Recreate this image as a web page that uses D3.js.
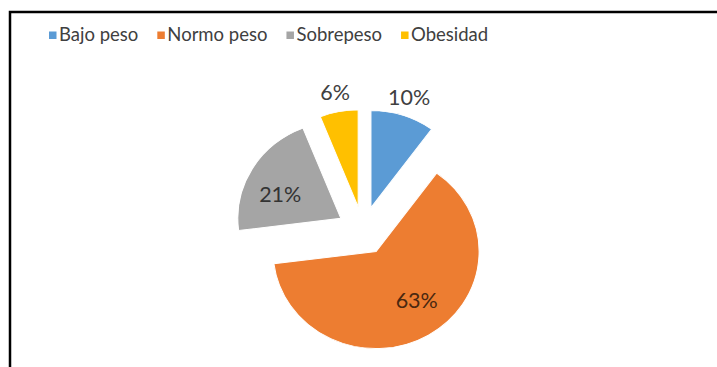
<!DOCTYPE html>
<html>
<head>
<meta charset="utf-8">
<script src="https://cdn.jsdelivr.net/npm/d3@7"></script>
<style>
  html, body { margin: 0; padding: 0; background: #fff; }
  svg { display: block; }
</style>
</head>
<body>
<svg id="chart" width="717" height="367"></svg>
<script>
// Distribución por estado nutricional
const categories = ["Bajo peso", "Normo peso", "Sobrepeso", "Obesidad"];
const values = [10, 63, 21, 6];
const colors = ["#5B9BD5", "#ED7D31", "#A5A5A5", "#FFC000"];
const labelColors = ["#404040", "#4a2810", "#333333", "#404040"];

const W = 717, H = 367;
const svg = d3.select("#chart");

// Frame around the chart area
svg.append("path")
  .attr("d", `M10,${H + 2} L10,12 L${W + 2},12`)
  .attr("fill", "none")
  .attr("stroke", "#000")
  .attr("stroke-width", 2.5);

// Pie geometry (plot area is slightly wider than tall)
const cx = 363, cy = 230.7, R = 100, explode = 25;
const sx = 1.03, sy = 0.97;
const total = d3.sum(values);
const pie = d3.pie().sort(null).value(d => d.v).startAngle(0).endAngle(2 * Math.PI);
const arcs = pie(categories.map((c, i) => ({ c, v: values[i], i })));
const arc = d3.arc().innerRadius(0).outerRadius(R);
const mid = d => (d.startAngle + d.endAngle) / 2;

const g = svg.append("g").attr("transform", `translate(${cx},${cy})`);

const slice = g.selectAll("g.slice").data(arcs).join("g")
  .attr("class", "slice")
  .attr("transform", d => {
    const a = mid(d);
    return `translate(${sx * explode * Math.sin(a)},${-sy * explode * Math.cos(a)})`;
  });

slice.append("path")
  .attr("d", arc)
  .attr("transform", `scale(${sx},${sy})`)
  .attr("fill", d => colors[d.data.i])
  .attr("stroke", "#fff")
  .attr("stroke-width", 1);

// Percentage labels: small slices get the label outside, the rest inside
const labelPos = d => {
  const outside = d.data.v / total < 0.15;
  const a = mid(d) - (outside ? 0 : 0.13);
  const rr = outside ? R * 1.2 : R * 0.64;
  return [sx * rr * Math.sin(a), -sy * rr * Math.cos(a)];
};

slice.append("text")
  .attr("x", d => labelPos(d)[0])
  .attr("y", d => labelPos(d)[1])
  .attr("dy", "0.36em")
  .attr("text-anchor", "middle")
  .attr("font-family", "Lato, 'Open Sans', sans-serif")
  .attr("font-size", 21.5)
  .attr("fill", d => labelColors[d.data.i])
  .text(d => Math.round(d.data.v / total * 100) + "%");

// Legend
const legend = svg.append("g").attr("transform", "translate(49,0)");
let lx = 0;
categories.forEach((c, i) => {
  const item = legend.append("g").attr("transform", `translate(${lx},0)`);
  item.append("rect")
    .attr("x", 0).attr("y", 31.5)
    .attr("width", 7.5).attr("height", 7.5)
    .attr("fill", colors[i]);
  const t = item.append("text")
    .attr("x", 10).attr("y", 41)
    .attr("font-family", "Lato, 'Open Sans', sans-serif")
    .attr("font-size", 18.5)
    .attr("fill", "#404040")
    .text(c);
  lx += 10 + t.node().getComputedTextLength() + 19;
});
</script>
</body>
</html>
